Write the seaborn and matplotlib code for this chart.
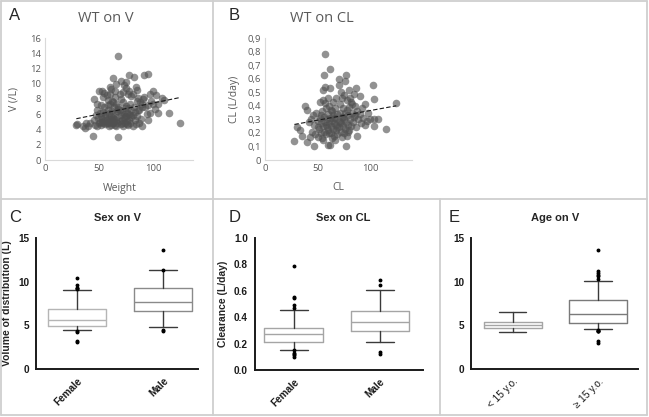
import numpy as np
import matplotlib
matplotlib.use('Agg')
import matplotlib.pyplot as plt
from matplotlib.lines import Line2D
import seaborn as sns

# ---- panel A: weight vs V ----
wt_a = [29, 30, 35, 37, 38, 40, 42, 44, 45, 45, 46, 47, 48, 48, 49, 50, 50, 51, 51, 52,
        52, 53, 53, 54, 54, 55, 55, 55, 56, 56, 57, 57, 58, 58, 58, 59, 59, 60, 60, 60,
        61, 61, 61, 62, 62, 62, 63, 63, 63, 64, 64, 65, 65, 65, 66, 66, 66, 67, 67, 68,
        68, 68, 69, 69, 70, 70, 70, 70, 71, 71, 72, 72, 73, 73, 74, 74, 75, 75, 75, 76,
        76, 77, 77, 78, 78, 78, 78, 79, 79, 80, 80, 80, 81, 81, 82, 82, 83, 83, 84, 85,
        85, 85, 86, 87, 87, 88, 89, 90, 90, 91, 92, 92, 93, 94, 95, 95, 95, 97, 97, 98,
        100, 100, 102, 103, 105, 105, 108, 110, 115, 125,
        53, 56, 59, 62, 64, 67, 71, 73, 76, 79, 57, 60, 66, 69, 74, 77, 52, 58, 63, 68,
        72, 81, 84, 48, 54, 60, 65, 75, 86, 90]
v_a = [4.6, 4.7, 4.5, 4.2, 4.9, 4.5, 4.8, 3.2, 8.0, 5.2, 4.6, 5.9, 6.5, 4.4, 5.5, 9.0, 4.8, 6.1, 5.0, 7.2,
       4.6, 9.1, 5.4, 6.3, 4.9, 8.8, 5.1, 7.0, 4.7, 6.0, 5.3, 8.5, 7.9, 4.9, 6.6, 5.6, 4.5, 9.6, 5.0, 7.4,
       9.3, 5.8, 4.6, 7.8, 5.2, 6.4, 10.8, 4.8, 5.5, 6.9, 5.0, 8.2, 4.6, 6.1, 10.0, 5.3, 7.3, 4.9, 5.7, 13.6,
       3.0, 6.7, 5.1, 8.6, 10.4, 8.0, 4.7, 5.9, 6.3, 5.2, 7.6, 4.5, 9.8, 5.5, 6.8, 4.9, 9.5, 5.8, 7.1, 5.1,
       6.2, 4.6, 8.7, 11.2, 9.0, 6.0, 5.3, 4.8, 7.4, 8.4, 5.6, 6.5, 4.5, 5.9, 10.9, 7.0, 5.2, 6.3, 4.7, 9.2,
       7.7, 5.8, 6.6, 6.5, 4.9, 7.6, 5.4, 4.5, 6.9, 8.0, 11.2, 8.2, 7.0, 6.0, 11.3, 7.2, 5.2, 8.7, 6.1, 7.8,
       9.0, 7.4, 6.7, 8.5, 7.3, 6.2, 8.1, 7.9, 6.1, 4.9,
       5.0, 5.6, 6.2, 4.9, 5.4, 6.4, 4.8, 6.0, 4.7, 5.9, 4.8, 5.4, 4.5, 6.6, 5.6, 6.8, 5.8, 7.2, 7.6, 7.0,
       8.9, 8.6, 9.6, 7.3, 8.2, 8.6, 9.0, 10.2, 8.1, 7.4]

# ---- panel B: weight vs CL ----
wt_b = [28, 30, 33, 35, 38, 40, 40, 42, 43, 44, 45, 46, 47, 47, 48, 49, 50, 50, 51, 52,
        52, 53, 53, 54, 54, 55, 55, 55, 55, 56, 56, 56, 57, 57, 57, 58, 58, 59, 59, 60,
        60, 60, 61, 61, 62, 62, 62, 62, 63, 63, 64, 64, 65, 65, 65, 66, 66, 67, 67, 68,
        68, 68, 69, 69, 70, 70, 70, 70, 71, 71, 72, 72, 72, 73, 73, 74, 74, 75, 75, 76,
        76, 76, 77, 77, 77, 78, 78, 78, 79, 79, 80, 80, 80, 81, 82, 82, 83, 84, 85, 85,
        86, 87, 87, 88, 88, 89, 90, 90, 91, 93, 95, 95, 97, 98, 100, 103, 104, 104, 104, 108,
        115, 125,
        50, 53, 58, 61, 63, 66, 69, 71, 74, 79, 83, 86, 64, 67, 73, 57, 60, 75, 81, 92]
cl_b = [0.14, 0.24, 0.22, 0.18, 0.40, 0.37, 0.13, 0.28, 0.17, 0.30, 0.21, 0.33, 0.10, 0.26, 0.19, 0.35, 0.17, 0.29, 0.23, 0.43,
        0.31, 0.20, 0.27, 0.36, 0.16, 0.52, 0.44, 0.15, 0.25, 0.63, 0.32, 0.21, 0.78, 0.54, 0.28, 0.19, 0.38, 0.24, 0.30, 0.11,
        0.34, 0.22, 0.27, 0.40, 0.67, 0.53, 0.11, 0.31, 0.25, 0.20, 0.36, 0.29, 0.43, 0.23, 0.33, 0.18, 0.27, 0.38, 0.31, 0.46,
        0.22, 0.26, 0.34, 0.19, 0.60, 0.55, 0.29, 0.24, 0.41, 0.35, 0.50, 0.27, 0.21, 0.46, 0.32, 0.25, 0.38, 0.20, 0.30, 0.58,
        0.35, 0.23, 0.63, 0.10, 0.28, 0.44, 0.37, 0.18, 0.26, 0.33, 0.52, 0.22, 0.39, 0.30, 0.43, 0.25, 0.35, 0.28, 0.49, 0.32,
        0.40, 0.53, 0.24, 0.18, 0.36, 0.30, 0.47, 0.34, 0.27, 0.31, 0.41, 0.26, 0.29, 0.35, 0.30, 0.55, 0.45, 0.30, 0.25, 0.30,
        0.23, 0.42,
        0.24, 0.33, 0.26, 0.20, 0.37, 0.31, 0.24, 0.28, 0.32, 0.21, 0.41, 0.33, 0.16, 0.15, 0.17, 0.42, 0.46, 0.48, 0.46, 0.38]

# ---- box plot summaries ----
sex_labels = ['Female', 'Male']
age_labels = ['< 15 y.o.', '\u2265 15 y.o.']

v_sex_whislo = [4.5, 4.8]
v_sex_q1 = [4.95, 6.65]
v_sex_med = [5.65, 7.65]
v_sex_q3 = [6.85, 9.25]
v_sex_whishi = [9.05, 11.3]
v_sex_fliers = [[3.05, 3.25, 4.2, 4.3, 9.15, 9.25, 9.3, 9.65, 10.4], [4.35, 4.45, 11.35, 13.65]]

cl_sex_whislo = [0.155, 0.21]
cl_sex_q1 = [0.215, 0.295]
cl_sex_med = [0.27, 0.365]
cl_sex_q3 = [0.32, 0.45]
cl_sex_whishi = [0.455, 0.605]
cl_sex_fliers = [[0.10, 0.11, 0.12, 0.13, 0.15, 0.47, 0.49, 0.545, 0.55, 0.785], [0.12, 0.14, 0.645, 0.68]]

v_age_whislo = [4.2, 4.6]
v_age_q1 = [4.7, 5.3]
v_age_med = [5.0, 6.35]
v_age_q3 = [5.4, 7.95]
v_age_whishi = [6.5, 10.1]
v_age_fliers = [[], [3.0, 3.15, 4.3, 4.35, 4.4, 4.45, 10.3, 10.6, 10.8, 11.0, 11.2, 13.65]]

W, H = 649, 417
fig = plt.figure(figsize=(W / 100, H / 100), dpi=100)
sns.set_style('white')
plt.rcParams['font.family'] = ['Liberation Sans', 'DejaVu Sans']


def px(l, t, r, b):
    return [l / W, 1 - b / H, (r - l) / W, (b - t) / H]


grey_txt = '#595959'


def scatter_panel(rect, x, y, xlim, ylim, yticks, yticklabels, title, letter, xlabel, ylabel,
                  letter_pos, title_pos, ylab_x, xlab_pos):
    ax = fig.add_axes(px(*rect))
    sns.scatterplot(x=x, y=y, ax=ax, color='#505050', alpha=0.62, s=30, linewidth=0)
    sns.regplot(x=np.array(x), y=np.array(y), ax=ax, scatter=False, ci=None, truncate=True,
                line_kws=dict(color='#1a1a1a', lw=0.8, ls=(0, (4, 2))))
    ax.set_xlim(*xlim)
    ax.set_ylim(*ylim)
    ax.set_xticks([0, 50, 100])
    ax.set_yticks(yticks)
    ax.set_yticklabels(yticklabels)
    ax.tick_params(length=0, labelsize=6.8, colors=grey_txt, pad=3)
    for s in ['top', 'right']:
        ax.spines[s].set_visible(False)
    for s in ['left', 'bottom']:
        ax.spines[s].set_color('#d9d9d9')
        ax.spines[s].set_linewidth(0.8)
    ax.set_xlabel('')
    ax.set_ylabel('')
    for lab in ax.get_xticklabels() + ax.get_yticklabels():
        lab.set_family(['Open Sans', 'DejaVu Sans'])
    fig.text(letter_pos[0] / W, 1 - letter_pos[1] / H, letter, fontsize=12, ha='left', va='center')
    fig.text(title_pos[0] / W, 1 - title_pos[1] / H, title, fontsize=10.5, ha='center', va='center',
             color=grey_txt, family=['Open Sans', 'DejaVu Sans'])
    fig.text(ylab_x / W, 1 - (rect[1] + rect[3]) / 2 / H, ylabel, fontsize=7.5, rotation=90,
             ha='center', va='center', color=grey_txt, family=['Open Sans', 'DejaVu Sans'])
    fig.text(xlab_pos[0] / W, 1 - xlab_pos[1] / H, xlabel, fontsize=7.5, ha='center', va='center',
             color=grey_txt, family=['Open Sans', 'DejaVu Sans'])
    return ax


scatter_panel((45, 38, 193, 160), wt_a, v_a, (0, 137), (0, 16), list(range(0, 17, 2)),
              [str(v) for v in range(0, 17, 2)], 'WT on V', 'A', 'Weight', 'V (/L)',
              (9, 15), (106, 18), 14, (120, 188))
cl_ticks = [i / 10 for i in range(10)]
scatter_panel((265, 38, 412, 160), wt_b, cl_b, (0, 140), (0, 0.9), cl_ticks,
              ['0'] + [('%.1f' % v).replace('.', ',') for v in cl_ticks[1:]], 'WT on CL', 'B', 'CL',
              'CL (L/day)', (229, 15), (322, 18), 234, (338, 188))


def box_panel(rect, labels, whislo, q1, med, q3, whishi, fliers, ylim, yticks, ytickfmt,
              xlim, title, title_x, letter, letter_x, ylabel, box_colors, bold_x=True):
    ax = fig.add_axes(px(*rect))
    stats = []
    for i in range(len(labels)):
        stats.append(dict(label=labels[i], whislo=whislo[i], q1=q1[i], med=med[i],
                          q3=q3[i], whishi=whishi[i], fliers=fliers[i]))
    for i, st in enumerate(stats):
        c = box_colors[i]
        ax.bxp([st], positions=[i], widths=0.68, capwidths=0.32, showfliers=True,
               boxprops=dict(color=c, lw=1.0),
               medianprops=dict(color=c, lw=1.0),
               whiskerprops=dict(color='#3a3a3a', lw=1.0),
               capprops=dict(color='#3a3a3a', lw=1.0),
               flierprops=dict(marker='o', markersize=1.8, markerfacecolor='black',
                               markeredgecolor='black'))
    ax.set_xlim(*xlim)
    ax.set_ylim(*ylim)
    ax.set_yticks(yticks)
    ax.set_yticklabels([ytickfmt % v for v in yticks])
    ax.set_xticks(range(len(labels)))
    ax.set_xticklabels(labels, rotation=45, ha='right', rotation_mode='anchor',
                       fontweight='bold' if bold_x else 'normal')
    ax.tick_params(axis='both', direction='out', length=3, width=1.2, labelsize=7.2, pad=2,
                   colors='#1a1a1a')
    for lab in ax.get_yticklabels():
        lab.set_fontweight('bold')
    for s in ['top', 'right']:
        ax.spines[s].set_visible(False)
    for s in ['left', 'bottom']:
        ax.spines[s].set_linewidth(1.4)
        ax.spines[s].set_color('#1a1a1a')
    ax.set_facecolor('white')
    fig.text(letter_x / W, 1 - 217 / H, letter, fontsize=12, ha='left', va='center')
    fig.text(title_x / W, 1 - 218 / H, title, fontsize=8, fontweight='bold', ha='center', va='center')
    if ylabel:
        ax.set_ylabel(ylabel, fontsize=7.5, fontweight='bold', labelpad=4)
    return ax


box_panel((36, 238, 198, 369), sex_labels, v_sex_whislo, v_sex_q1, v_sex_med, v_sex_q3,
          v_sex_whishi, v_sex_fliers, (0, 15), [0, 5, 10, 15], '%d', (-0.477, 1.407),
          'Sex on V', 118, 'C', 9, 'Volume of distribution (L)', ['#b5b5b5', '#8a8a8a'])
box_panel((255, 238, 423, 370), sex_labels, cl_sex_whislo, cl_sex_q1, cl_sex_med, cl_sex_q3,
          cl_sex_whishi, cl_sex_fliers, (0, 1.0), [0, 0.2, 0.4, 0.6, 0.8, 1.0], '%.1f',
          (-0.45, 1.5), 'Sex on CL', 343, 'D', 229, 'Clearance (L/day)', ['#a5a5a5', '#a5a5a5'])
box_panel((471, 238, 638, 369), age_labels, v_age_whislo, v_age_q1, v_age_med, v_age_q3,
          v_age_whishi, v_age_fliers, (0, 15), [0, 5, 10, 15], '%d', (-0.49, 1.47),
          'Age on V', 555, 'E', 449, None, ['#a5a5a5', '#7a7a7a'], bold_x=False)

# panel frames
fc = '#cfcfcf'
frame = [((1, 647), (1, 1)), ((1, 647), (415, 415)), ((1, 1), (1, 415)), ((647, 647), (1, 415)),
         ((1, 647), (199, 199)), ((213, 213), (1, 415)), ((440, 440), (199, 415))]
for xs, ys in frame:
    fig.add_artist(Line2D([xs[0] / W, xs[1] / W], [1 - ys[0] / H, 1 - ys[1] / H],
                          color=fc, lw=1.3, transform=fig.transFigure))

fig.savefig('out.png', dpi=100, facecolor='white')
